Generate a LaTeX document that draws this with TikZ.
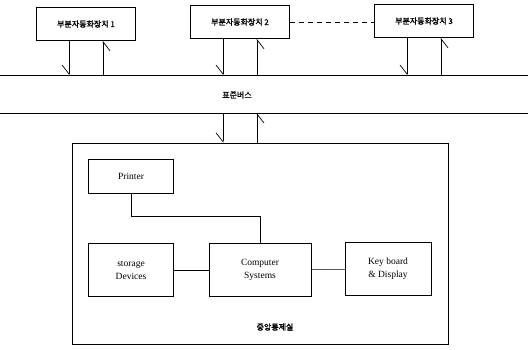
\documentclass[tikz,border=0pt]{standalone}
\usepackage{fontspec}
\setmainfont{Liberation Serif}
\newfontfamily\krfont[FakeBold=1.5]{Noto Sans CJK KR}
\usetikzlibrary{arrows.meta}

\providecommand*{\busTop}{}
\providecommand*{\busBot}{}
\renewcommand*{\busTop}{75}
\renewcommand*{\busBot}{113}

\tikzset{
  unit/.style={draw,minimum width=99pt,minimum height=33pt,inner sep=0pt,
    font=\krfont\fontsize{8}{9}\selectfont},
  krlabel/.style={font=\krfont\fontsize{8}{9}\selectfont},
  dev/.style={draw,minimum width=85pt,minimum height=53pt,inner sep=0pt,
    align=center,font=\fontsize{9.5}{13}\selectfont},
  barb/.style={-{Straight Barb[right,length=9pt,width=14pt,line width=0.7pt]}},
}

\begin{document}
\begin{tikzpicture}[x=1pt,y=-1pt,line width=0.5pt]
  \useasboundingbox (0,0) rectangle (528,350);

  % units on the bus
  \node [unit] (u1) at (86,24) {부분자동화장치 1};
  \node [unit] (u2) at (240,22) {부분자동화장치 2};
  \node [unit] (u3) at (424,21) {부분자동화장치 3};
  \draw [dash pattern=on 5pt off 4pt] (u2.east) -- (u2.east -| u3.west);

  % bus
  \coordinate (busTL) at (0,\busTop);
  \coordinate (busTR) at (528,\busTop);
  \coordinate (busBL) at (0,\busBot);
  \coordinate (busBR) at (528,\busBot);
  \draw (busTL) -- (busTR);
  \draw (busBL) -- (busBR);
  \node [krlabel] (bus) at (237,95) {표준버스};

  \foreach \u in {u1,u2,u3} {
    \draw [barb] ([xshift=-17pt]\u.south) -- ([xshift=-17pt]\u.south |- busTL);
    \draw [barb] ([xshift=17pt]\u.south |- busTL) -- ([xshift=17pt]\u.south);
  }

  % central control room
  \node [draw,minimum width=376pt,minimum height=201pt,inner sep=0pt] (ctrl) at (260,243.5) {};
  \node [krlabel] (ctrlName) at (275,327) {중앙통제실};
  \draw [barb] ([xshift=-17pt]u2.south |- busBL) -- ([xshift=-17pt]u2.south |- ctrl.north);
  \draw [barb] ([xshift=17pt]u2.south |- ctrl.north) -- ([xshift=17pt]u2.south |- busBL);

  \node [dev,minimum height=34pt] (prn) at (131,176) {Printer};
  \node [dev] (sto) at (131,270) {storage\\Devices};
  \node [dev,minimum width=102pt] (cs) at (260,270) {Computer\\Systems};
  \node [dev,minimum width=86pt] (kbd) at (388,269) {Key board\\\& Display};

  \draw (sto) -- (cs);
  \draw (cs) -- (kbd);
  \draw (prn.south) -- ++(0,23) -| (cs.north);
\end{tikzpicture}
\end{document}
